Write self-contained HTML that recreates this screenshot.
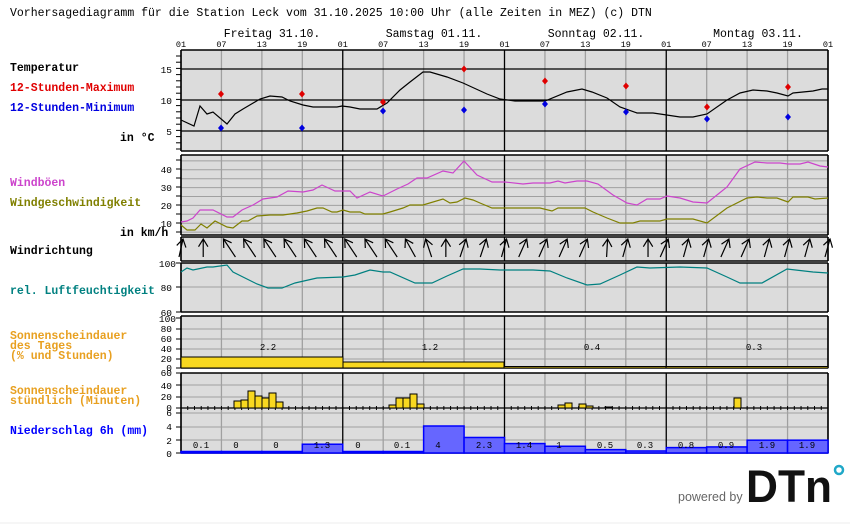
<!DOCTYPE html>
<html><head><meta charset="utf-8"><style>
html,body{margin:0;padding:0;background:#fff;width:850px;height:524px;overflow:hidden}
svg{display:block}
.m{font-family:"Liberation Mono",monospace}
</style></head><body>
<svg id="s" width="850" height="524" xmlns="http://www.w3.org/2000/svg">
<g class="m" font-size="11.5" font-weight="bold">
<text x="10" y="16" font-weight="normal" font-size="11.5">Vorhersagediagramm für die Station Leck vom 31.10.2025 10:00 Uhr (alle Zeiten in MEZ)   (c) DTN</text>
<text x="10" y="71" fill="#000">Temperatur</text>
<text x="10" y="91" fill="#e00000">12-Stunden-Maximum</text>
<text x="10" y="111" fill="#0000e0">12-Stunden-Minimum</text>
<text x="120" y="141" fill="#000">in °C</text>
<text x="10" y="186" fill="#cc44cc">Windböen</text>
<text x="10" y="206" fill="#808000">Windgeschwindigkeit</text>
<text x="120" y="236" fill="#000">in km/h</text>
<text x="10" y="254" fill="#000">Windrichtung</text>
<text x="10" y="294" fill="#008080">rel. Luftfeuchtigkeit</text>
<text x="10" y="339" fill="#e8a020">Sonnenscheindauer</text>
<text x="10" y="349" fill="#e8a020">des Tages</text>
<text x="10" y="359" fill="#e8a020">(% und Stunden)</text>
<text x="10" y="394" fill="#e8a020">Sonnenscheindauer</text>
<text x="10" y="404" fill="#e8a020">stündlich (Minuten)</text>
<text x="10" y="434" fill="#0000ff">Niederschlag 6h (mm)</text>
</g>
<g class="m" font-size="11.5">
<text x="272" y="37" text-anchor="middle">Freitag 31.10.</text>
<text x="434" y="37" text-anchor="middle">Samstag 01.11.</text>
<text x="596" y="37" text-anchor="middle">Sonntag 02.11.</text>
<text x="758" y="37" text-anchor="middle">Montag 03.11.</text>
</g>
<g id="hours" class="m" font-size="8.5" text-anchor="middle"></g>
<g id="bg"></g>
<g id="grid"></g>
<g id="yl" class="m" font-size="9.5" text-anchor="end">
<text x="172" y="73">15</text><text x="172" y="104">10</text><text x="172" y="135">5</text>
<text x="172" y="173">40</text><text x="172" y="191">30</text><text x="172" y="209">20</text><text x="172" y="227">10</text>
<text x="176" y="267">100</text><text x="172" y="291">80</text><text x="172" y="316">60</text>
<text x="176" y="322">100</text><text x="172" y="332">80</text><text x="172" y="342">60</text><text x="172" y="352">40</text><text x="172" y="362">20</text><text x="172" y="371">0</text>
<text x="172" y="376">60</text><text x="172" y="389">40</text><text x="172" y="400">20</text><text x="172" y="411">0</text>
<text x="172" y="416">6</text><text x="172" y="430">4</text><text x="172" y="444">2</text><text x="172" y="457">0</text>
</g>
<g id="data"></g>
<g class="m" font-size="9" text-anchor="middle">
<text x="268" y="350">2.2</text><text x="430" y="350">1.2</text><text x="592" y="350">0.4</text><text x="754" y="350">0.3</text>
<text x="201" y="448">0.1</text><text x="236" y="448">0</text><text x="276" y="448">0</text><text x="322" y="448">1.3</text>
<text x="358" y="448">0</text><text x="402" y="448">0.1</text><text x="438" y="448">4</text><text x="484" y="448">2.3</text>
<text x="524" y="448">1.4</text><text x="559" y="448">1</text><text x="605" y="448">0.5</text><text x="645" y="448">0.3</text>
<text x="686" y="448">0.8</text><text x="726" y="448">0.9</text><text x="767" y="448">1.9</text><text x="807" y="448">1.9</text>
</g>
<text x="678" y="501" font-family="Liberation Sans,sans-serif" font-size="12.5" fill="#666">powered by</text>
<text x="746" y="502" font-family="Liberation Sans,sans-serif" font-size="45" font-weight="bold" fill="#111" textLength="86" lengthAdjust="spacingAndGlyphs">DTn</text>
<circle cx="839" cy="470" r="4" fill="none" stroke="#20a8c8" stroke-width="2.5"/>
<line x1="0" y1="523" x2="850" y2="523" stroke="#eee"/>
</svg>
<script>
var NS="http://www.w3.org/2000/svg";
function el(p,t,a){var e=document.createElementNS(NS,t);for(var k in a)e.setAttribute(k,a[k]);document.getElementById(p).appendChild(e);return e;}
var X0=181,X1=828,DW=(X1-X0)/4,H6=DW/4,HR=DW/24;
var hl=["01","07","13","19"];
for(var i=0;i<=16;i++){var t=el("hours","text",{x:X0+i*H6,y:47});t.textContent=hl[i%4];}
var panels=[[50,151],[155,235],[237,261],[263,312],[316,368],[373,453]];
panels.forEach(function(p){el("bg","rect",{x:X0,y:p[0],width:X1-X0,height:p[1]-p[0],fill:"#dcdcdc"});});
function hl2(y,c,w){el("grid","line",{x1:X0,x2:X1,y1:y,y2:y,stroke:c,"stroke-width":w||1});}
// wind grid every 5
for(var v=5;v<=45;v+=5)hl2(241-v*1.78,"#a0a0a0");
hl2(287,"#a0a0a0");
[329,339,349,359].forEach(function(y){hl2(y,"#a0a0a0");});
[385,397,413,427,440].forEach(function(y){hl2(y,"#a0a0a0");});
// vertical
for(var i=0;i<=16;i++){var x=X0+i*H6;panels.forEach(function(p){el("grid","line",{x1:x,x2:x,y1:p[0],y2:p[1],stroke:i%4==0?"#000":"#a0a0a0","stroke-width":i%4==0?1.3:1.3});});}
[69,100,131].forEach(function(y){hl2(y,"#000",1.3);});
panels.forEach(function(p){hl2(p[0],"#000",1.5);hl2(p[1],"#000",1.5);el("grid","line",{x1:X0,x2:X0,y1:p[0],y2:p[1],stroke:"#000","stroke-width":1.5});el("grid","line",{x1:X1,x2:X1,y1:p[0],y2:p[1],stroke:"#000","stroke-width":1.5});});
hl2(408,"#000",1.3);
// y ticks
for(var y=56;y<150;y+=6.2)el("grid","line",{x1:176,x2:181,y1:y,y2:y,stroke:"#000"});
[160,169,178,187,196,205,214,223,232].forEach(function(y){el("grid","line",{x1:176,x2:181,y1:y,y2:y,stroke:"#000"});});
[263,287,312,318,329,339,349,359,368,373,385,397,408,413,427,440,453].forEach(function(y){el("grid","line",{x1:176,x2:181,y1:y,y2:y,stroke:"#000"});});
// hourly ticks
for(var i=1;i<96;i++){var x=X0+i*HR;el("grid","line",{x1:x,x2:x,y1:406,y2:410,stroke:"#000"});}
function pl(pts,c,w){el("data","polyline",{points:pts,fill:"none",stroke:c,"stroke-width":w||1.2});}
pl("181,120 194,126 200,106 207,114 213,112 227,124 235,114 243,109 260,99 270,96 282,97 290,101 303,105 313,107 337,107 342,106 350,107 360,109 377,109 387,103 400,90 410,82 423,72 430,72 447,77 463,83 487,94 500,99 515,101 545,101 567,92 582,89 592,92 607,98 620,107 637,113 653,113 660,114 680,117 693,117 707,114 727,100 740,93 753,90 767,91 777,93 788,96 793,93 813,91 822,89 828,89","#000");
pl("181,222 187,221 193,218 200,210 213,210 227,217 233,217 242,210 253,205 263,199 277,197 288,191 303,192 313,190 322,185 335,191 350,191 357,198 370,192 383,196 397,189 408,184 417,178 427,178 443,171 453,173 464,161 477,175 492,182 505,182 523,184 533,183 550,183 558,181 565,183 577,181 587,181 598,184 613,195 627,203 637,205 647,199 660,199 667,196 680,198 693,202 707,203 727,187 740,169 755,162 767,163 780,163 788,164 800,164 808,162 820,166 828,167","#cc44cc");
pl("181,225 187,230 195,230 201,224 207,228 215,221 227,227 233,228 242,221 248,221 257,216 270,215 283,215 297,213 307,211 317,208 323,208 332,212 337,212 343,210 350,212 360,212 365,214 383,214 390,212 403,208 410,205 423,205 443,199 450,203 457,202 465,198 473,200 480,203 492,208 500,208 515,208 540,208 552,211 558,208 585,208 593,212 607,218 620,223 633,223 640,221 660,221 667,219 693,219 707,223 727,208 747,198 757,197 767,198 777,198 788,202 793,197 808,197 815,199 828,198","#808000");
pl("181,272 187,268 193,270 207,267 213,267 227,265 233,272 257,284 268,288 282,288 295,283 317,278 343,277 355,275 370,270 383,272 390,272 415,283 432,283 447,276 463,269 480,269 500,270 533,270 550,271 567,278 587,285 600,284 620,275 637,267 650,268 680,267 707,268 727,277 740,283 762,283 787,269 813,272 828,273","#008080");
function dia(x,y,c){el("data","path",{d:"M"+x+","+(y-3.5)+"L"+(x+3)+","+y+"L"+x+","+(y+3.5)+"L"+(x-3)+","+y+"Z",fill:c});}
[[221,94],[302,94],[383,102],[464,69],[545,81],[626,86],[707,107],[788,87]].forEach(function(p){dia(p[0],p[1],"#e00000");});
[[221,128],[302,128],[383,111],[464,110],[545,104],[626,112],[707,119],[788,117]].forEach(function(p){dia(p[0],p[1],"#0000e0");});
// arrows
var dx=[-4,0,12,12,12,12,12,12, 12,12,12,10,6,0,-6,-6, -5,-8,-8,-8,-8,-1,-5,0, -8,-5,-5,-8,-8,-5,-5,-5,-5];
for(var i=0;i<=32;i++){var hx=X0+i*DW/8+2,hy=239,tx=hx+dx[i],ty=257;
var ang=Math.atan2(ty-hy,tx-hx),L=9,a=0.55;
el("data","path",{d:"M"+tx+","+ty+"L"+hx+","+hy+"M"+(hx+L*Math.cos(ang+a))+","+(hy+L*Math.sin(ang+a))+"L"+hx+","+hy+"L"+(hx+L*Math.cos(ang-a))+","+(hy+L*Math.sin(ang-a)),fill:"none",stroke:"#000","stroke-width":1.2});}
// daily sun
[[181,343,357],[343,504,362],[504,666,366.5],[666,828,366.5]].forEach(function(b){el("data","rect",{x:b[0],y:b[2],width:b[1]-b[0],height:368-b[2],fill:"#f8d820",stroke:"#000","stroke-width":1});});
// hourly sun
[[234,401],[241,400],[248,391],[255,396],[262,398],[269,393],[276,402],[389,405],[396,398],[403,398],[410,394],[417,404],[558,405],[565,403],[579,404],[586,406],[605,407],[734,398]].forEach(function(b){el("data","rect",{x:b[0],y:b[1],width:7,height:408-b[1],fill:"#f8d820",stroke:"#000","stroke-width":1});});
// precip
var pr=[0.1,0,0,1.3,0,0.1,4,2.3,1.4,1,0.5,0.3,0.8,0.9,1.9,1.9];
pr.forEach(function(v,i){var x=X0+i*H6,h=v*6.75;if(h<1.5)h=1.5;el("data","rect",{x:x,y:453-h,width:H6,height:h,fill:"#6666ff",stroke:"#0000ff","stroke-width":1.5});});
</script>
</body></html>
